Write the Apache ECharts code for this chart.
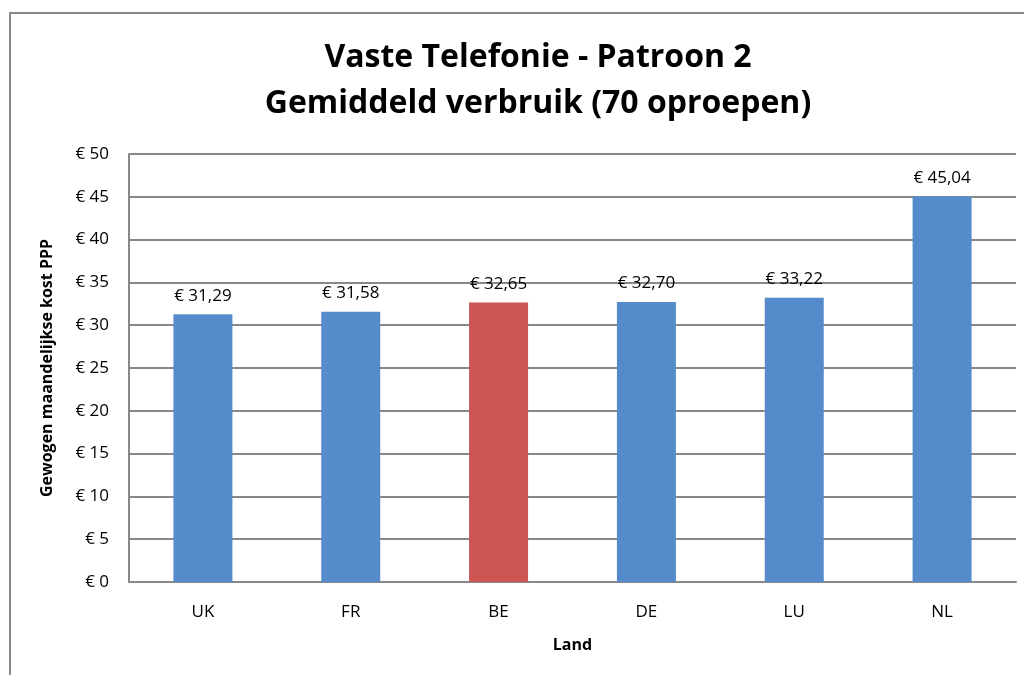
<!DOCTYPE html>
<html>
<head>
<meta charset="utf-8">
<script src="https://cdn.jsdelivr.net/npm/echarts@6/dist/echarts.min.js"></script>
<style>
  html, body { margin: 0; padding: 0; background: #fff; }
  #chart { width: 1024px; height: 675px; }
</style>
</head>
<body>
<div id="chart"></div>
<script>
const landen = ['UK', 'FR', 'BE', 'DE', 'LU', 'NL']
const kosten = [31.29, 31.58, 32.65, 32.70, 33.22, 45.04]
const kleuren = ['#558bcb', '#558bcb', '#cb5653', '#558bcb', '#558bcb', '#558bcb']

const font = '"Open Sans", "Liberation Sans", sans-serif'

const chart = echarts.init(document.getElementById('chart'))

const option = {
    animation: false,
    backgroundColor: '#fff',
    title: {
        text: 'Vaste Telefonie - Patroon 2\nGemiddeld verbruik (70 oproepen)',
        left: 533,
        top: 30,
        textAlign: 'center',
        textStyle: {
            fontFamily: font,
            fontSize: 32,
            fontWeight: 'bold',
            color: '#000',
            lineHeight: 46
        }
    },
    graphic: [
        {
            type: 'rect',
            shape: { x: 10, y: 13, width: 1030, height: 700 },
            style: { fill: 'none', stroke: '#898989', lineWidth: 2 },
            silent: true
        }
    ],
    grid: {
        left: 129,
        right: 8,
        top: 154,
        bottom: 93
    },
    xAxis: {
        type: 'category',
        data: landen,
        name: 'Land',
        nameLocation: 'middle',
        nameGap: 55,
        nameTextStyle: { fontFamily: font, fontSize: 16, fontWeight: 'bold', color: '#000' },
        axisLine: { lineStyle: { color: '#888', width: 2 } },
        axisTick: { show: false },
        axisLabel: { fontFamily: font, fontSize: 17, color: '#000', margin: 22 }
    },
    yAxis: {
        type: 'value',
        min: 0,
        max: 50,
        interval: 5,
        name: 'Gewogen maandelijkse kost PPP',
        nameLocation: 'middle',
        nameGap: 74,
        nameTextStyle: { fontFamily: font, fontSize: 16, fontWeight: 'bold', color: '#000' },
        axisLine: { show: true, lineStyle: { color: '#888', width: 2 } },
        axisTick: { show: false },
        splitLine: { lineStyle: { color: '#888', width: 2 } },
        axisLabel: {
            fontFamily: font,
            fontSize: 17,
            color: '#000',
            margin: 20,
            formatter: function (v) { return '€ ' + v }
        }
    },
    series: [
        {
            type: 'bar',
            data: kosten.map(function (v, i) {
                return { value: v, itemStyle: { color: kleuren[i] } }
            }),
            barWidth: 59,
            label: {
                show: true,
                position: 'top',
                distance: 10,
                fontFamily: font,
                fontSize: 17,
                color: '#000',
                formatter: function (p) { return '€ ' + p.value.toFixed(2).replace('.', ',') }
            }
        }
    ]
}

chart.setOption(option)
</script>
</body>
</html>
